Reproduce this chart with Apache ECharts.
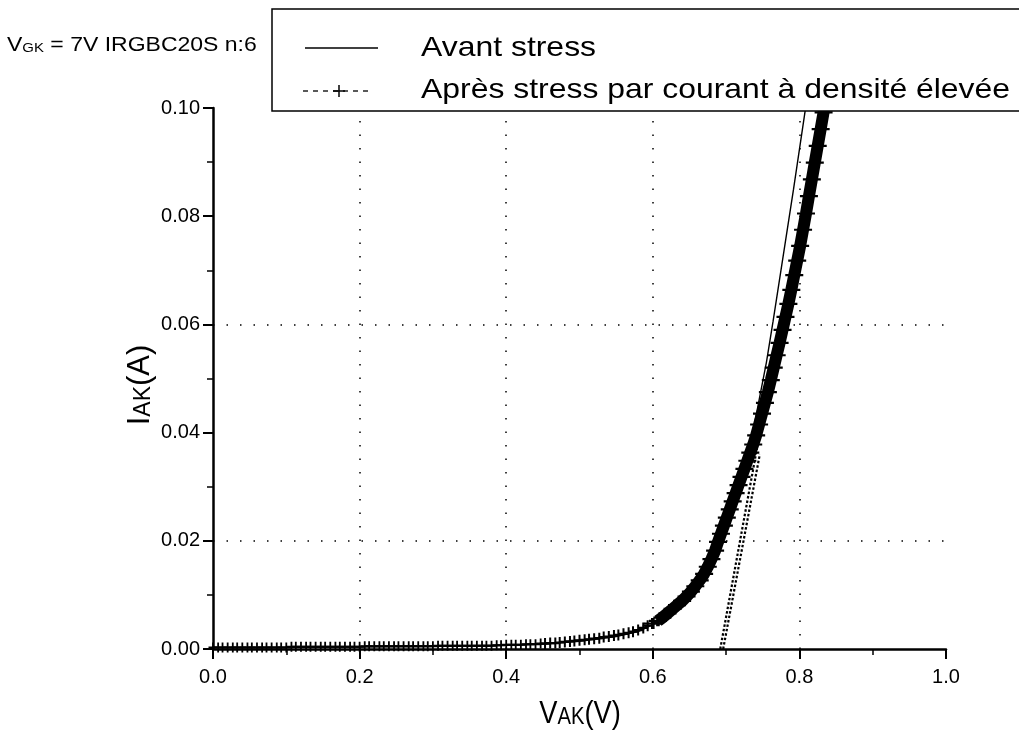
<!DOCTYPE html>
<html><head><meta charset="utf-8">
<script src="https://cdn.jsdelivr.net/npm/echarts@6/dist/echarts.min.js"></script>
<style>html,body{margin:0;padding:0;background:#fff}#c{width:1019px;height:739px}</style>
</head><body><div id="c"></div>
<script>
const xTickLabels = ['0.0','0.2','0.4','0.6','0.8','1.0'];
const yTickLabels = ['0.00','0.02','0.04','0.06','0.08','0.10'];
const gridXValues = [0.2, 0.4, 0.6, 0.8];
const gridYValues = [0.02, 0.06];

// "Après stress par courant à densité élevée" (+ markers)
const apresV = [
  0,.007,.013,.02,.027,.033,.04,.047,.053,.06,.067,.073,.08,.087,.093,.1,
  .107,.113,.12,.127,.133,.14,.147,.153,.16,.167,.173,.18,.187,.193,.2,
  .207,.213,.22,.227,.233,.24,.247,.253,.26,.267,.273,.28,.287,.293,.3,
  .307,.313,.32,.327,.333,.34,.347,.353,.36,.367,.373,.38,
  .387,.393,.4,.407,.413,.42,.427,.433,.44,
  .447,.453,.46,.467,.473,.48,.487,.493,.5,.507,.513,.52,.527,.533,.54,.547,.553,.56,.567,.573,.58,.587,.593,.6,
  .607,.613,.62,.627,.633,.64,.646,.652,.658,.664,.67,.675,.68,.685,.689,.693,.697,.701,.705,.709,.713,.717,.721,.725,.729,.733,.737,.741,.745,.749,.753,.757,.761,.765,.769,.773,.777,.781,.785,.789,.793,.797,.801,.805,.809,.813,.817,.821,.825,.829,.833,.837
];
const apresI = [
  .0003,.0003,.0003,.0003,.0003,.0003,.0003,.0003,.0003,.0003,.0003,.0003,.0003,.0003,.0003,.0003,
  .0004,.0004,.0004,.0004,.0004,.0004,.0004,.0004,.0004,.0004,.0004,.0004,.0004,.0004,.0004,
  .0005,.0005,.0005,.0005,.0005,.0005,.0005,.0005,.0005,.0005,.0005,.0005,.0005,.0005,.0005,
  .0006,.0006,.0006,.0006,.0006,.0006,.0006,.0006,.0006,.0006,.0006,.0006,
  .0007,.0007,.0008,.0008,.0008,.0008,.0009,.0009,.0009,
  .0010,.0010,.0011,.0011,.0012,.0013,.0014,.0015,.0016,.0017,.0018,.0019,.0020,.0022,.0023,.0025,.0026,.0028,.0030,.0032,.0035,.0039,.0043,.0047,
  .0052,.0058,.0066,.0074,.0081,.0089,.0097,.0106,.0116,.0127,.0139,.0152,.0166,.0182,.0198,.0213,.0228,.0243,.0258,.0273,.0288,.0303,.0318,.0333,.0348,.0363,.0378,.0395,.0415,.0435,.0455,.0475,.0497,.0520,.0543,.0566,.0590,.0614,.0638,.0664,.0691,.0718,.0745,.0775,.0805,.0837,.0868,.0899,.0930,.0961,.0992,.1023
];

// "Avant stress" (solid line)
const avantV = [0,0.1,0.2,0.3,0.4,0.45,0.5,0.55,0.58,0.6,0.62,0.64,0.66,0.68,0.70,0.72,0.735,0.745,0.755,0.764,0.776,0.792,0.808,0.812];
const avantI = [0.0003,0.0003,0.0004,0.0005,0.0007,0.0009,0.0014,0.0023,0.0032,0.0045,0.0065,0.0090,0.0124,0.0170,0.0228,0.0310,0.0390,0.0460,0.0530,0.0605,0.0710,0.0850,0.0996,0.1030];

// dotted tangent (threshold extrapolation)
const tangentAV = [0.692, 0.742], tangentAI = [0, 0.037];
const tangentBV = [0.696, 0.746], tangentBI = [0, 0.036];

const pairs = (xs, ys) => xs.map((x, i) => [x, ys[i]]);
const apresData = pairs(apresV, apresI);
const bandData = apresData.filter(p => p[0] >= 0.607);

const FONT = "'Liberation Sans', Arial, sans-serif";
const plusPath = 'path://M4,0H6V4H10V6H6V10H4V6H0V4H4Z';
const titleRich = {
  m: {fontSize: 31, fontFamily: FONT, lineHeight: 35, verticalAlign: 'bottom'},
  s: {fontSize: 23, fontFamily: FONT, lineHeight: 19, verticalAlign: 'bottom'}
};

const chart = echarts.init(document.getElementById('c'), null, {renderer: 'canvas'});
chart.setOption({
  animation: false,
  backgroundColor: '#fff',
  grid: {left: 213, right: 73, top: 108, bottom: 90},
  xAxis: {
    type: 'value', min: 0, max: 1, interval: 0.2,
    axisLine: {lineStyle: {color: '#000', width: 2.5}},
    axisTick: {length: 10, lineStyle: {color: '#000', width: 2}},
    minorTick: {show: true, splitNumber: 2, length: 6, lineStyle: {color: '#000', width: 1.5}},
    splitLine: {show: false},
    axisLabel: {color: '#000', fontSize: 20, fontFamily: FONT, margin: 18,
      formatter: v => xTickLabels[Math.round(v / 0.2)]}
  },
  yAxis: {
    type: 'value', min: 0, max: 0.1, interval: 0.02,
    axisLine: {lineStyle: {color: '#000', width: 2.5}},
    axisTick: {length: 10, lineStyle: {color: '#000', width: 2}},
    minorTick: {show: true, splitNumber: 2, length: 6, lineStyle: {color: '#000', width: 1.5}},
    splitLine: {show: false},
    axisLabel: {color: '#000', fontSize: 20, fontFamily: FONT, margin: 13,
      formatter: v => yTickLabels[Math.round(v / 0.02)]}
  },
  series: [
    {
      name: 'grid', type: 'line', data: [], silent: true, z: 1,
      markLine: {
        silent: true, symbol: ['none', 'none'], label: {show: false},
        lineStyle: {color: '#000', width: 1.5, type: [1.5, 12]},
        data: gridXValues.map(v => ({xAxis: v})).concat(gridYValues.map(v => ({yAxis: v})))
      }
    },
    {
      name: 'band', type: 'line', data: bandData, symbol: 'none', z: 2,
      lineStyle: {color: '#000', width: 12}
    },
    {
      name: 'Après stress par courant à densité élevée', type: 'line', data: apresData, z: 3,
      symbol: plusPath, symbolSize: v => v[0] >= 0.6 ? [18, 11] : (v[0] >= 0.45 ? [10, 11] : [9, 10]),
      itemStyle: {color: '#000'},
      lineStyle: {color: '#000', width: 1.5, type: 'dashed'}
    },
    {
      name: 'tangentA', type: 'line', data: pairs(tangentAV, tangentAI), symbol: 'none', z: 3,
      lineStyle: {color: '#000', width: 2.2, type: [2.5, 2]}
    },
    {
      name: 'tangentB', type: 'line', data: pairs(tangentBV, tangentBI), symbol: 'none', z: 3,
      lineStyle: {color: '#000', width: 2.2, type: [2.5, 2]}
    },
    {
      name: 'Avant stress', type: 'line', data: pairs(avantV, avantI), symbol: 'none', z: 4,
      lineStyle: {color: '#000', width: 1.4}
    }
  ],
  graphic: [
    {type: 'rect', z: 100, shape: {x: 272, y: 9, width: 800, height: 102},
      style: {fill: '#fff', stroke: '#000', lineWidth: 1.5}},
    {type: 'line', z: 101, shape: {x1: 305, y1: 48, x2: 378, y2: 48}, style: {stroke: '#000', lineWidth: 1.3}},
    {type: 'line', z: 101, shape: {x1: 303, y1: 91, x2: 372, y2: 91}, style: {stroke: '#000', lineWidth: 1.3, lineDash: [5, 5]}},
    {type: 'line', z: 101, shape: {x1: 333, y1: 91, x2: 345, y2: 91}, style: {stroke: '#000', lineWidth: 1.5}},
    {type: 'line', z: 101, shape: {x1: 339, y1: 85, x2: 339, y2: 97}, style: {stroke: '#000', lineWidth: 1.5}},
    {type: 'text', z: 101, x: 421, y: 48, scaleX: 1.14,
      style: {text: 'Avant stress', font: '28px ' + FONT, fill: '#000', verticalAlign: 'middle'}},
    {type: 'text', z: 101, x: 421, y: 90, scaleX: 1.14,
      style: {text: 'Après stress par courant à densité élevée', font: '28px ' + FONT, fill: '#000', verticalAlign: 'middle'}},
    {type: 'text', z: 101, x: 7, y: 43, scaleX: 1.15,
      style: {text: '{m|V}{s|GK}{m| = 7V IRGBC20S n:6}', fill: '#000', verticalAlign: 'middle',
        rich: {m: {fontSize: 20, fontFamily: FONT, lineHeight: 24, verticalAlign: 'bottom'},
               s: {fontSize: 13, fontFamily: FONT, lineHeight: 13, verticalAlign: 'bottom'}}}},
    {type: 'text', z: 101, x: 138, y: 385, rotation: Math.PI / 2,
      style: {text: '{m|I}{s|AK}{m|(A)}', fill: '#000', align: 'center', verticalAlign: 'middle', rich: titleRich}},
    {type: 'text', z: 101, x: 580, y: 712, scaleX: 0.88,
      style: {text: '{m|V}{s|AK}{m|(V)}', fill: '#000', align: 'center', verticalAlign: 'middle', rich: titleRich}}
  ]
});
</script></body></html>
